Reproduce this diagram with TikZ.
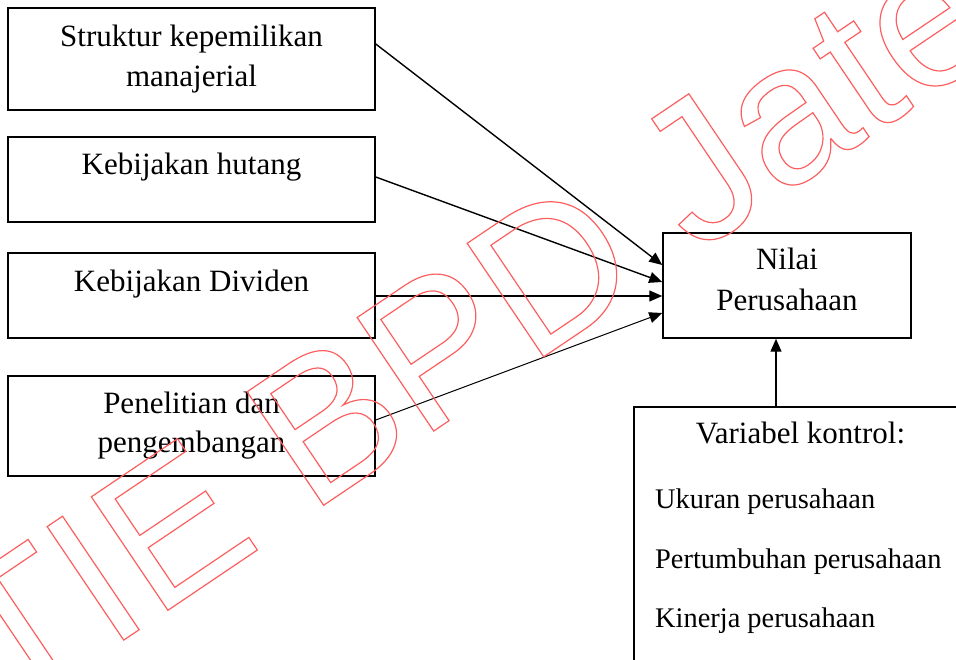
\documentclass[tikz,border=0pt]{standalone}
\usepackage{fontspec}
\setmainfont{Liberation Serif}
\newfontfamily\wmfont{Liberation Sans}
\usetikzlibrary{arrows.meta}
\definecolor{wmred}{RGB}{252,95,95}
\tikzset{
  box/.style={draw, line width=1.5pt, inner sep=0pt, minimum width=367pt},
  lbl/.style={anchor=base, inner sep=0pt, font=\fontsize{31}{40}\selectfont},
  lbll/.style={anchor=base west, inner sep=0pt, font=\fontsize{28.4}{36}\selectfont},
  conn/.style={line width=1.4pt, -{Triangle[length=13pt,width=11pt]}},
}
\begin{document}
\begin{tikzpicture}[x=1pt,y=-1pt]
\useasboundingbox (0,0) rectangle (956,660);
\clip (0,0) rectangle (956,660);
% left boxes
\node[box, minimum height=102pt] (b1) at (191.5,59) {};
\node[box, minimum height=85pt] (b2) at (191.5,179.5) {};
\node[box, minimum height=85pt] (b3) at (191.5,295.5) {};
\node[box, minimum height=100pt] (b4) at (191.5,426) {};
\node[lbl] (t1a) at (191.5,47) {Struktur kepemilikan};
\node[lbl] (t1b) at (191.5,87) {manajerial};
\node[lbl] (t2) at (191.5,175) {Kebijakan hutang};
\node[lbl] (t3) at (191.5,292) {Kebijakan Dividen};
\node[lbl] (t4a) at (191.5,413) {Penelitian dan};
\node[lbl] (t4b) at (191.5,452) {pengembangan};
% target
\node[box, minimum width=248pt, minimum height=105pt] (nv) at (787,285.5) {};
\node[lbl] (nva) at (787,270) {Nilai};
\node[lbl] (nvb) at (787,311) {Perusahaan};
% control box
\node[box, minimum width=346pt, minimum height=300pt] (ctrl) at (807,557) {};
\node[lbl] (ct0) at (800.5,443) {Variabel kontrol:};
\node[lbll] (ct1) at (655,508) {Ukuran perusahaan};
\node[lbll] (ct2) at (655,568) {Pertumbuhan perusahaan};
\node[lbll] (ct3) at (655,627) {Kinerja perusahaan};
% connectors
\draw[conn] ([yshift=15pt]b1.east) -- ([yshift=20.5pt]nv.west);
\draw[conn] ([yshift=2.5pt]b2.east) -- ([yshift=3.5pt]nv.west);
\draw[conn] ([yshift=-0.5pt]b3.east) -- ([yshift=-10.5pt]nv.west);
\draw[conn, line width=1pt] ([yshift=6pt]b4.east) -- ([yshift=-27.5pt]nv.west);
\draw[conn] ([xshift=-31pt]ctrl.north) -- ([xshift=-11pt]nv.south);
% watermark
\node[anchor=base west, inner sep=0pt, rotate=34, text=wmred,
      font=\wmfont\fontsize{199}{199}\selectfont] (wm) at (-102.5,792.7)
  {\special{pdf:literal direct 1 Tr 1.2 w}STIE BPD Jateng\special{pdf:literal direct 0 Tr}};
\end{tikzpicture}
\end{document}
